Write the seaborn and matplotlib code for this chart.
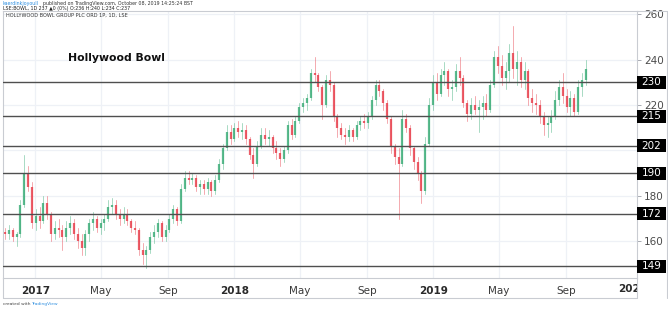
import numpy as np
import pandas as pd
import matplotlib
matplotlib.use("Agg")
import matplotlib.pyplot as plt
import matplotlib.dates as mdates
import matplotlib.transforms as mtrans
from matplotlib.patches import Rectangle
from matplotlib.lines import Line2D
import seaborn as sns

# ---------------- data (weekly candles) ----------------
week_start = "2016-11-07"
n_weeks = 153
opens = [164,163,165,162,163,176,190,184,168,171,
         169,177,172,163,166,165,162,166,168,163,
         160,157,163,168,170,166,168,170,175,176,
         172,170,172,169,166,165,156,154,156,162,
         164,168,162,165,170,174,169,183,188,187,
         188,184,185,183,186,182,187,194,201,208,
         205,210,208,209,205,198,194,202,207,205,
         206,201,199,196,200,211,207,213,219,221,
         223,234,233,228,220,231,229,215,210,207,
         206,209,206,211,213,212,215,222,229,226,
         221,214,202,197,194,214,210,201,195,190,
         182,203,220,230,225,233,235,227,228,235,
         232,221,216,220,218,219,221,218,229,241,
         237,232,235,243,236,239,231,235,223,221,
         220,215,211,212,215,222,228,224,219,223,
         217,228,231]
highs = [166,167,166,164,178,198,193,186,174,175,
         180,180,173,169,170,167,169,171,170,166,
         163,165,170,173,171,170,172,178,179,178,
         174,175,174,170,169,166,159,158,164,167,
         170,169,167,172,176,175,185,191,191,190,
         189,187,187,188,187,189,196,203,211,211,
         212,213,212,211,206,201,204,210,210,209,
         207,204,201,202,213,214,215,221,223,225,
         236,241,234,229,233,235,230,216,212,210,
         211,210,213,215,216,217,224,231,231,227,
         222,215,203,201,218,216,211,202,197,191,
         206,223,233,234,236,239,236,231,238,241,
         233,222,223,224,222,224,225,231,244,246,
         242,239,247,255,244,241,239,236,227,225,
         222,217,215,218,226,231,234,227,226,225,
         231,234,240]
lows = [161,161,160,158,162,175,182,166,165,166,
        168,170,160,161,162,156,160,163,161,157,
        154,154,160,165,164,163,165,169,172,170,
        167,168,167,164,163,154,150,148,155,159,
        162,160,160,164,168,167,168,182,185,185,
        182,181,181,181,180,181,186,192,200,203,
        204,206,205,203,196,188,193,201,203,202,
        199,196,193,195,199,205,206,212,217,218,
        222,230,226,214,219,226,213,206,205,203,
        204,204,205,209,210,210,214,220,224,218,
        212,199,194,170,193,208,198,192,187,177,
        181,202,218,222,224,229,224,222,226,229,
        219,213,214,216,208,214,215,217,228,234,
        229,227,230,232,229,228,227,220,217,216,
        212,207,206,208,214,220,221,217,215,215,
        216,224,229]
closes = [163,165,162,163,176,190,184,168,171,169,
          177,172,163,166,165,162,166,168,163,160,
          157,163,168,170,166,168,170,175,176,172,
          170,172,169,166,165,156,154,156,162,164,
          168,162,165,170,174,169,183,188,187,188,
          184,185,183,186,182,187,194,201,208,205,
          210,208,209,205,198,194,202,207,205,206,
          201,199,196,200,211,207,213,219,221,223,
          234,233,228,220,231,229,215,210,207,206,
          209,206,211,213,212,215,222,229,226,221,
          214,202,197,194,214,210,201,195,190,182,
          203,220,230,225,233,235,227,228,235,232,
          221,216,220,218,219,221,218,229,241,237,
          232,235,243,236,239,231,235,223,221,220,
          215,211,212,215,222,228,224,219,223,217,
          228,231,236]
levels = [230, 215, 202, 190, 172, 149]
grid_y = [160, 180, 200, 220, 240, 260]
y_tick_labels = [160, 180, 220, 240, 260]
x_tick_dates = ["2017-01-01", "2017-05-01", "2017-09-01", "2018-01-01", "2018-05-01",
                "2018-09-01", "2019-01-01", "2019-05-01", "2019-09-01"]
x_tick_labels = ["2017", "May", "Sep", "2018", "May", "Sep", "2019", "May", "Sep"]
cut_label_date, cut_label = "2020-01-01", "2020"
title = "Hollywood Bowl"

# ---------------- styling ----------------
UP, DOWN = "#3fae7a", "#e8424f"
FRAME = "#c9ccd2"
GRID = "#eef1f6"

sns.set_theme(style="white")
plt.rcParams["font.family"] = ["DejaVu Sans"]

dates = pd.date_range(week_start, periods=n_weeks, freq="7D")
df = pd.DataFrame({"date": dates, "open": opens, "high": highs, "low": lows, "close": closes})
df["dir"] = np.where(df["close"] >= df["open"], "up", "down")
df["id"] = np.arange(len(df))

wick = pd.concat([
    df[["date", "id", "dir"]].assign(price=df["low"]),
    df[["date", "id", "dir"]].assign(price=df["high"]),
])
body = pd.concat([
    df[["date", "id", "dir"]].assign(price=df["open"]),
    df[["date", "id", "dir"]].assign(price=df["close"]),
])
pal = {"up": UP, "down": DOWN}

W, H = 668, 309
fig = plt.figure(figsize=(W / 100, H / 100), dpi=100)
ax = fig.add_axes([3 / W, 31 / H, 634 / W, 267 / H])
ax.set_facecolor("white")

# grid
for d in x_tick_dates:
    ax.axvline(pd.Timestamp(d), color=GRID, lw=0.9, zorder=0)
for yv in grid_y:
    ax.axhline(yv, color=GRID, lw=0.9, zorder=0)

sns.lineplot(data=wick, x="date", y="price", units="id", estimator=None, hue="dir",
             palette=pal, linewidth=0.7, legend=False, ax=ax, alpha=0.45, sort=False)
sns.lineplot(data=body, x="date", y="price", units="id", estimator=None, hue="dir",
             palette=pal, linewidth=1.6, legend=False, ax=ax, sort=False,
             solid_capstyle="butt", alpha=0.85)

for lv in levels:
    ax.axhline(lv, color="#4f4f4f", lw=1.0, zorder=3)

ax.set_xlim(pd.Timestamp("2016-11-03"), pd.Timestamp("2020-01-09"))
ax.set_ylim(143.8, 261.4)
ax.set_xlabel("")
ax.set_ylabel("")

# axes ticks
ax.yaxis.tick_right()
ax.set_yticks(y_tick_labels)
ax.set_yticklabels([str(v) for v in y_tick_labels])
ax.tick_params(axis="y", which="both", right=True, left=False, length=3, width=0.6,
               color="#9a9ea6", labelsize=7.5, labelcolor="#4a4a4a", pad=2)
ax.set_xticks([pd.Timestamp(d) for d in x_tick_dates])
ax.set_xticklabels(x_tick_labels)
ax.tick_params(axis="x", which="both", bottom=False, length=0, labelsize=7.5,
               labelcolor="#3a3a3a", pad=6)
for lbl in ax.get_xticklabels():
    if lbl.get_text().isdigit():
        lbl.set_fontweight("bold")
        lbl.set_color("#2a2a2a")

for s in ax.spines.values():
    s.set_color(FRAME)
    s.set_linewidth(0.8)

# level boxes on the price scale
blend = mtrans.blended_transform_factory(ax.transAxes, ax.transData)
box_w = 29 / 634
box_h = 13 / 267 * (261.4 - 143.8)
for lv in levels:
    ax.add_patch(Rectangle((1.0, lv - box_h / 2), box_w, box_h, transform=blend,
                           facecolor="black", edgecolor="none", clip_on=False, zorder=6))
    ax.text(1.0 + box_w / 2, lv, str(lv), transform=blend, ha="center", va="center",
            color="white", fontsize=7.5, clip_on=False, zorder=7)

# partially hidden 2020 label
xb = mtrans.blended_transform_factory(ax.transData, fig.transFigure)
t = fig.text(mdates.date2num(pd.Timestamp(cut_label_date)), 1 - 289 / H, cut_label,
             transform=xb, ha="center", va="center", fontsize=7.5, fontweight="bold",
             color="#2a2a2a")
clip = mtrans.TransformedBbox(mtrans.Bbox([[0, 0], [637 / W, 1]]), fig.transFigure)
t.set_clip_box(clip)
t.set_clip_on(True)

# frame of the lower label band and the whole widget
def fline(x0, y0, x1, y1, c=FRAME, lw=0.8):
    fig.add_artist(Line2D([x0 / W, x1 / W], [1 - y0 / H, 1 - y1 / H], color=c, lw=lw,
                          transform=fig.transFigure))

fline(3, 278, 3, 298)
fline(3, 298, 637, 298)
fline(637, 278, 637, 298)
fline(637, 11, 667, 11)
fline(667, 11, 667, 298)

# title and header texts
ax.text(65 / 634, 1 - (58 - 11) / 267, title, transform=ax.transAxes, fontsize=7.8,
        fontweight="bold", color="#111111", ha="left", va="center")
ax.text(3 / 634, 1 - (15.5 - 11) / 267, "HOLLYWOOD BOWL GROUP PLC ORD 1P, 1D, LSE",
        transform=ax.transAxes, fontsize=3.6, color="#333333", ha="left", va="center")
fig.text(3 / W, 1 - 4 / H, "kaerdinkjoyoull", fontsize=3.4, color="#2f8fe0",
         ha="left", va="center")
fig.text(43 / W, 1 - 4 / H, "published on TradingView.com, October 08, 2019 14:25:24 BST",
         fontsize=3.4, color="#333333", ha="left", va="center")
fig.text(3 / W, 1 - 8.5 / H, "LSE:BOWL, 1D 237 \u25b20 (0%) O:236 H:240 L:234 C:237",
         fontsize=3.4, color="#222222", ha="left", va="center")
fig.text(3 / W, 1 - 304 / H, "created with", fontsize=3.2, color="#444444",
         ha="left", va="center")
fig.text(31 / W, 1 - 304 / H, "TradingView", fontsize=3.2, color="#2f8fe0",
         ha="left", va="center")

fig.savefig("out.png", dpi=100)
